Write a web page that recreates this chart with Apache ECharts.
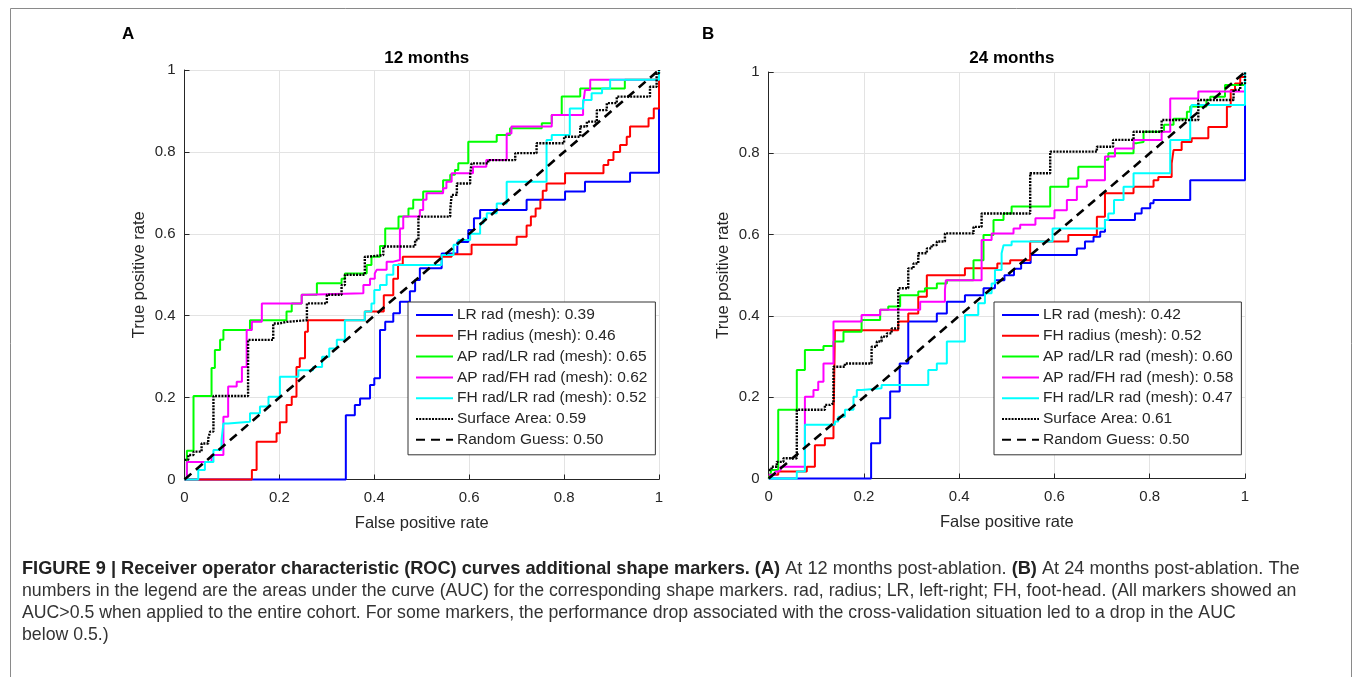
<!DOCTYPE html>
<html>
<head>
<meta charset="utf-8">
<title>Figure 9 - ROC curves</title>
<script src="https://cdn.jsdelivr.net/npm/echarts@6/dist/echarts.min.js"></script>
<style>
  html, body { margin: 0; padding: 0; background: #fff; }
  #chart { width: 1357px; height: 677px; }
</style>
</head>
<body>
<div id="chart"></div>
<script>
// legend labels and AUC values
const markerNames = ['LR rad (mesh)', 'FH radius (mesh)', 'AP rad/LR rad (mesh)', 'AP rad/FH rad (mesh)', 'FH rad/LR rad (mesh)', 'Surface Area', 'Random Guess'];
const auc12 = [0.39, 0.46, 0.65, 0.62, 0.52, 0.59, 0.50];
const auc24 = [0.42, 0.52, 0.60, 0.58, 0.47, 0.61, 0.50];
const rateTicks = [0, 0.2, 0.4, 0.6, 0.8, 1];

// ROC curves, [false positive rate, true positive rate] at the top of each step
// 12 months
const lrRad12 = [[0,0],[0.34,0.157],[0.359,0.182],[0.37,0.198],[0.391,0.231],[0.40,0.247],[0.412,0.365],[0.423,0.385],[0.44,0.406],[0.454,0.434],[0.475,0.46],[0.486,0.487],[0.496,0.516],[0.542,0.552],[0.575,0.58],[0.598,0.609],[0.61,0.638],[0.623,0.658],[0.721,0.683],[0.802,0.703],[0.844,0.727],[0.939,0.749],[1,1]];
const fhRadius12 = [[0,0],[0.142,0.023],[0.152,0.092],[0.194,0.113],[0.201,0.14],[0.215,0.182],[0.226,0.202],[0.236,0.275],[0.243,0.296],[0.254,0.361],[0.26,0.389],[0.38,0.41],[0.42,0.45],[0.44,0.49],[0.45,0.525],[0.46,0.544],[0.563,0.55],[0.605,0.573],[0.70,0.593],[0.721,0.62],[0.73,0.642],[0.74,0.662],[0.75,0.683],[0.755,0.705],[0.763,0.723],[0.802,0.748],[0.883,0.768],[0.893,0.78],[0.904,0.80],[0.918,0.817],[0.932,0.837],[0.939,0.862],[0.978,0.882],[0.989,0.906],[1,1]];
const apLr12 = [[0,0],[0.005,0.07],[0.019,0.204],[0.057,0.272],[0.064,0.316],[0.075,0.341],[0.082,0.365],[0.138,0.389],[0.215,0.41],[0.226,0.43],[0.247,0.451],[0.279,0.479],[0.331,0.49],[0.338,0.503],[0.384,0.524],[0.394,0.544],[0.412,0.57],[0.423,0.613],[0.451,0.642],[0.472,0.662],[0.482,0.683],[0.503,0.703],[0.545,0.731],[0.56,0.744],[0.57,0.756],[0.577,0.772],[0.598,0.825],[0.658,0.841],[0.686,0.858],[0.753,0.87],[0.774,0.89],[0.795,0.935],[0.834,0.955],[0.928,0.976],[1,1]];
const apFh12 = [[0,0],[0.005,0.043],[0.057,0.06],[0.082,0.113],[0.082,0.153],[0.092,0.227],[0.11,0.239],[0.121,0.275],[0.131,0.365],[0.142,0.385],[0.163,0.43],[0.247,0.451],[0.258,0.455],[0.377,0.475],[0.391,0.49],[0.401,0.503],[0.405,0.512],[0.426,0.532],[0.44,0.536],[0.454,0.613],[0.461,0.642],[0.496,0.658],[0.503,0.683],[0.51,0.699],[0.545,0.711],[0.552,0.727],[0.563,0.748],[0.608,0.764],[0.636,0.78],[0.679,0.845],[0.689,0.862],[0.774,0.89],[0.84,0.915],[0.844,0.951],[0.855,0.976],[1,1]];
const fhLr12 = [[0,0],[0.029,0.023],[0.043,0.043],[0.061,0.072],[0.078,0.096],[0.082,0.137],[0.092,0.141],[0.138,0.162],[0.159,0.178],[0.177,0.202],[0.201,0.251],[0.24,0.267],[0.271,0.275],[0.29,0.30],[0.305,0.32],[0.321,0.341],[0.338,0.389],[0.38,0.41],[0.394,0.43],[0.40,0.463],[0.412,0.475],[0.426,0.50],[0.44,0.524],[0.542,0.548],[0.567,0.573],[0.577,0.585],[0.602,0.60],[0.623,0.626],[0.63,0.638],[0.637,0.65],[0.658,0.674],[0.679,0.727],[0.763,0.829],[0.774,0.841],[0.812,0.906],[0.84,0.927],[0.858,0.943],[0.88,0.955],[0.897,0.976],[1,1]];
const surface12 = [[0,0.048],[0.008,0.06],[0.019,0.068],[0.036,0.088],[0.05,0.10],[0.054,0.117],[0.061,0.204],[0.134,0.275],[0.134,0.341],[0.187,0.381],[0.201,0.385],[0.215,0.389],[0.258,0.43],[0.30,0.451],[0.331,0.475],[0.338,0.50],[0.38,0.544],[0.385,0.548],[0.419,0.569],[0.486,0.585],[0.493,0.642],[0.56,0.658],[0.563,0.695],[0.574,0.723],[0.602,0.744],[0.605,0.772],[0.64,0.78],[0.697,0.797],[0.742,0.821],[0.80,0.837],[0.834,0.862],[0.848,0.874],[0.869,0.902],[0.89,0.919],[0.911,0.935],[0.981,0.959],[0.995,0.992],[1,1]];
// 24 months
const lrRad24 = [[0,0],[0.215,0.087],[0.234,0.148],[0.255,0.214],[0.275,0.283],[0.293,0.386],[0.353,0.406],[0.374,0.435],[0.412,0.451],[0.451,0.468],[0.475,0.488],[0.495,0.50],[0.515,0.516],[0.53,0.53],[0.55,0.55],[0.647,0.566],[0.664,0.583],[0.682,0.595],[0.696,0.607],[0.706,0.636],[0.769,0.652],[0.783,0.665],[0.801,0.677],[0.808,0.685],[0.885,0.734],[1,1]];
const fhRadius24 = [[0,0],[0.003,0.009],[0.02,0.017],[0.08,0.029],[0.097,0.082],[0.118,0.099],[0.136,0.123],[0.139,0.365],[0.272,0.386],[0.293,0.406],[0.314,0.447],[0.332,0.50],[0.412,0.517],[0.48,0.529],[0.507,0.537],[0.549,0.583],[0.629,0.599],[0.689,0.644],[0.706,0.702],[0.766,0.718],[0.808,0.734],[0.818,0.742],[0.846,0.775],[0.85,0.808],[0.867,0.828],[0.888,0.837],[0.923,0.865],[0.962,0.915],[0.97,0.956],[0.979,0.972],[0.99,0.988],[1,1]];
const apLr24 = [[0,0],[0.003,0.01],[0.006,0.021],[0.02,0.029],[0.02,0.169],[0.059,0.267],[0.076,0.316],[0.115,0.326],[0.136,0.337],[0.157,0.361],[0.195,0.39],[0.234,0.415],[0.251,0.423],[0.276,0.451],[0.314,0.46],[0.328,0.468],[0.353,0.48],[0.374,0.488],[0.43,0.537],[0.451,0.599],[0.472,0.636],[0.493,0.652],[0.51,0.669],[0.591,0.718],[0.629,0.738],[0.65,0.767],[0.706,0.784],[0.713,0.80],[0.766,0.825],[0.773,0.828],[0.787,0.853],[0.83,0.87],[0.85,0.885],[0.878,0.902],[0.885,0.915],[0.919,0.931],[0.927,0.939],[0.958,0.968],[1,1]];
const apFh24 = [[0,0.009],[0.014,0.017],[0.02,0.021],[0.025,0.029],[0.076,0.201],[0.094,0.218],[0.104,0.238],[0.115,0.283],[0.136,0.386],[0.195,0.402],[0.234,0.415],[0.318,0.435],[0.37,0.464],[0.372,0.488],[0.447,0.587],[0.468,0.603],[0.514,0.615],[0.528,0.624],[0.56,0.64],[0.6,0.66],[0.626,0.685],[0.647,0.718],[0.668,0.734],[0.706,0.792],[0.727,0.812],[0.766,0.833],[0.825,0.853],[0.843,0.935],[0.902,0.952],[1,1]];
const fhLr24 = [[0,0],[0.059,0.017],[0.076,0.132],[0.139,0.14],[0.146,0.152],[0.16,0.169],[0.178,0.201],[0.185,0.218],[0.195,0.222],[0.237,0.23],[0.335,0.267],[0.353,0.283],[0.374,0.337],[0.412,0.402],[0.44,0.431],[0.454,0.456],[0.468,0.48],[0.475,0.513],[0.489,0.554],[0.493,0.574],[0.51,0.583],[0.596,0.615],[0.706,0.636],[0.713,0.652],[0.725,0.685],[0.745,0.718],[0.766,0.751],[0.843,0.833],[0.885,0.878],[0.888,0.919],[1,1]];
const surface24 = [[0,0.021],[0.006,0.029],[0.017,0.041],[0.031,0.05],[0.059,0.07],[0.059,0.169],[0.118,0.181],[0.129,0.185],[0.136,0.275],[0.16,0.283],[0.216,0.324],[0.227,0.337],[0.237,0.349],[0.248,0.357],[0.258,0.369],[0.272,0.468],[0.293,0.517],[0.304,0.529],[0.314,0.554],[0.332,0.566],[0.342,0.574],[0.353,0.583],[0.37,0.603],[0.43,0.619],[0.447,0.652],[0.549,0.751],[0.591,0.804],[0.689,0.816],[0.723,0.833],[0.766,0.853],[0.825,0.882],[0.902,0.931],[0.976,0.956],[0.99,0.972],[1,1]];
const randomGuess = [[0,0],[1,1]];

const curves12 = [lrRad12, fhRadius12, apLr12, apFh12, fhLr12, surface12, randomGuess];
const curves24 = [lrRad24, fhRadius24, apLr24, apFh24, fhLr24, surface24, randomGuess];

const lineColors = ['#0000ff', '#ff0000', '#00ff00', '#ff00ff', '#00ffff', '#000000', '#000000'];
const lineTypes = ['solid', 'solid', 'solid', 'solid', 'solid', [2, 1.2], [9, 6]];
const lineWidths = [2, 2, 2, 2, 2, 2.4, 2.6];

const FONT = '"Liberation Sans", Arial, Helvetica, sans-serif';
const AXIS_COLOR = '#262626';

// caption lines (bold parts flagged) and the width each line spans
const captionLines = [
  [['FIGURE 9 | Receiver operator characteristic (ROC) curves additional shape markers. ', true], ['(A)', true], [' At 12 months post-ablation. ', false], ['(B)', true], [' At 24 months post-ablation. The', false]],
  [['numbers in the legend are the areas under the curve (AUC) for the corresponding shape markers. rad, radius; LR, left-right; FH, foot-head. (All markers showed an', false]],
  [['AUC>0.5 when applied to the entire cohort. For some markers, the performance drop associated with the cross-validation situation led to a drop in the AUC', false]],
  [['below 0.5.)', false]]
];
const captionWidths = [1278, 1275, 1215, null];

const panels = [
  { title: '12 months', letter: 'A', curves: curves12, auc: auc12,
    grid: { left: 184.5, top: 70, width: 474.5, height: 409.5 }, legendPos: { left: 408, top: 302 } },
  { title: '24 months', letter: 'B', curves: curves24, auc: auc24,
    grid: { left: 768.7, top: 72, width: 476.3, height: 406.5 }, legendPos: { left: 994, top: 302 } }
];

// pick a font size per caption line so that it spans the same width as in the figure
function captionSizes() {
  const ctx = document.createElement('canvas').getContext('2d');
  const sizes = captionLines.map((segs, li) => {
    if (!captionWidths[li]) return null;
    let w = 0;
    segs.forEach(s => {
      ctx.font = (s[1] ? 'bold ' : '') + '16px ' + FONT;
      w += ctx.measureText(s[0]).width;
    });
    return 16 * captionWidths[li] / w;
  });
  return sizes.map(s => s || sizes[1]);
}

function buildOption() {
  const grid = [], xAxis = [], yAxis = [], series = [], legend = [], title = [], graphic = [];
  const capSizes = captionSizes();

  panels.forEach((p, pi) => {
    grid.push(Object.assign({ containLabel: false, show: false }, p.grid));
    const names = markerNames.map((n, i) => n + ': ' + p.auc[i].toFixed(2));

    const axisBase = {
      type: 'value', gridIndex: pi, min: rateTicks[0], max: rateTicks[rateTicks.length - 1], interval: rateTicks[1] - rateTicks[0],
      axisLine: { show: true, lineStyle: { color: AXIS_COLOR, width: 1 } },
      axisTick: { show: true, inside: true, length: 5, lineStyle: { color: AXIS_COLOR } },
      splitLine: { show: true, lineStyle: { color: '#e3e3e3', width: 1 } },
      nameLocation: 'middle',
      nameTextStyle: { color: AXIS_COLOR, fontSize: 16.5, fontFamily: FONT }
    };
    xAxis.push(Object.assign({}, axisBase, {
      name: 'False positive rate', nameGap: 35,
      axisLabel: { color: AXIS_COLOR, fontSize: 15, fontFamily: FONT, margin: 11 }
    }));
    yAxis.push(Object.assign({}, axisBase, {
      name: 'True positive rate', nameGap: 37,
      axisLabel: { color: AXIS_COLOR, fontSize: 15, fontFamily: FONT, margin: 9 }
    }));

    p.curves.forEach((data, i) => {
      series.push({
        type: 'line', name: names[i], xAxisIndex: pi, yAxisIndex: pi,
        data: data, step: i < 6 ? 'end' : false, symbol: 'none', clip: false,
        lineStyle: { color: lineColors[i], width: lineWidths[i], type: lineTypes[i], cap: 'butt' },
        itemStyle: { color: lineColors[i] },
        emphasis: { disabled: true }, z: 2 + i
      });
    });

    legend.push({
      data: names, orient: 'vertical', left: p.legendPos.left, top: p.legendPos.top,
      itemWidth: 37, itemHeight: 12, itemGap: 4.8,
      padding: [5, 8, 7, 7], backgroundColor: '#fff',
      borderColor: '#333', borderWidth: 1, borderRadius: 0,
      selectedMode: false,
      itemStyle: { opacity: 0 },
      textStyle: { color: AXIS_COLOR, fontSize: 15.5, fontFamily: FONT, padding: [0, 0, 0, -1] }
    });

    title.push({
      text: p.title, left: p.grid.left + p.grid.width / 2, top: 45, textAlign: 'center',
      textStyle: { color: '#000', fontSize: 17, fontWeight: 'bold', fontFamily: FONT }
    });

    graphic.push({
      type: 'text', left: pi === 0 ? 122 : 702, top: 26,
      style: { text: p.letter, fill: '#000', font: 'bold 17px ' + FONT }
    });
  });

  // figure frame (runs past the bottom edge, as in the figure)
  graphic.push({
    type: 'rect', left: 8, top: 6, z: -1,
    shape: { width: 1341, height: 690 },
    style: { fill: 'none', stroke: '#8a8a8a', lineWidth: 1 }
  });

  // caption
  captionLines.forEach((segs, li) => {
    const size = capSizes[li];
    graphic.push({
      type: 'text', left: 22, top: 560 + li * 22,
      style: {
        text: segs.map(s => '{' + (s[1] ? 'b' : 'n') + '|' + s[0] + '}').join(''),
        rich: {
          b: { fontWeight: 'bold', fontSize: size, fontFamily: FONT, fill: '#222' },
          n: { fontSize: size, fontFamily: FONT, fill: '#333' }
        }
      }
    });
  });

  return { animation: false, backgroundColor: '#fff', grid, xAxis, yAxis, series, legend, title, graphic };
}

const chart = echarts.init(document.getElementById('chart'));
chart.setOption(buildOption());
</script>
</body>
</html>
